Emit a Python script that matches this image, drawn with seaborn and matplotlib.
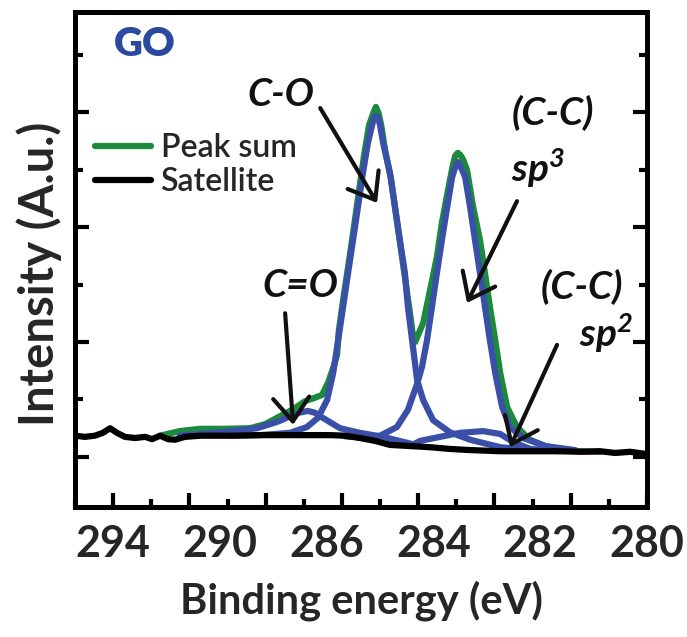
import matplotlib
matplotlib.use("Agg")
import matplotlib.pyplot as plt
from matplotlib.ticker import MultipleLocator
import seaborn as sns

# satellite / background (black)
sat_x = [295.00, 294.74, 294.48, 294.27, 294.08, 293.90, 293.69, 293.43, 293.16, 292.98,
         292.77, 292.56, 292.38, 292.12, 291.72, 290.93, 290.15, 289.10, 288.31, 287.92,
         287.53, 287.13, 286.74, 286.21, 285.69, 285.17, 284.64, 283.85, 283.07, 282.28,
         281.76, 281.23, 280.84, 280.44, 280.00]
sat_y = [0.37, 0.35, 0.37, 0.42, 0.50, 0.42, 0.35, 0.33, 0.35, 0.31,
         0.37, 0.31, 0.30, 0.35, 0.37, 0.37, 0.38, 0.38, 0.38, 0.37,
         0.33, 0.28, 0.21, 0.19, 0.17, 0.14, 0.12, 0.10, 0.10, 0.10,
         0.09, 0.10, 0.07, 0.09, 0.05]

# peak sum (green)
sum_x = [292.77, 292.25, 291.72, 291.07, 290.41, 290.02, 289.62, 289.28, 288.97, 288.71,
         288.52, 288.36, 288.23, 288.13, 288.08, 287.95, 287.81, 287.68, 287.55, 287.42,
         287.29, 287.18, 287.11, 287.04, 286.97, 286.87, 286.71, 286.58, 286.45, 286.32,
         286.21, 286.14, 286.08, 285.98, 285.87, 285.69, 285.51, 285.38, 285.22, 285.09,
         285.03, 284.96, 284.89, 284.82, 284.72, 284.56, 284.38, 284.25, 284.12, 283.98,
         283.85, 283.67, 283.41, 283.07, 282.67, 282.28, 281.76, 281.23]
sum_y = [0.37, 0.45, 0.49, 0.49, 0.50, 0.57, 0.71, 0.83, 0.97, 1.03,
         1.08, 1.30, 1.55, 1.77, 2.21, 2.82, 3.43, 4.03, 4.64, 5.25,
         5.77, 5.98, 6.09, 5.98, 5.77, 5.34, 4.82, 4.21, 3.60, 2.99,
         2.47, 2.12, 2.00, 2.16, 2.33, 2.90, 3.48, 4.07, 4.64, 5.08,
         5.24, 5.29, 5.25, 5.17, 4.99, 4.35, 3.77, 3.20, 2.61, 2.03,
         1.46, 0.87, 0.52, 0.30, 0.19, 0.14, 0.10, 0.09]

# fitted components (blue)
co_x = [290.93, 290.15, 289.36, 288.92, 288.63, 288.39, 288.23, 288.10, 287.97, 287.84,
        287.71, 287.58, 287.45, 287.32, 287.21, 287.16, 287.11, 287.05, 287.00, 286.92,
        286.74, 286.61, 286.48, 286.35, 286.27, 286.16, 286.03, 285.87, 285.61, 285.17,
        284.64, 283.85, 283.07]
co_y = [0.37, 0.38, 0.42, 0.52, 0.68, 0.99, 1.46, 2.03, 2.61, 3.20,
        3.77, 4.35, 4.94, 5.46, 5.77, 5.90, 5.93, 5.90, 5.77, 5.46,
        4.94, 4.35, 3.77, 3.20, 2.61, 2.03, 1.34, 0.99, 0.64, 0.43,
        0.30, 0.17, 0.12]

sp3_x = [287.92, 287.45, 287.00, 286.56, 286.27, 286.03, 285.90, 285.77, 285.64, 285.51,
         285.38, 285.24, 285.11, 285.03, 284.96, 284.88, 284.77, 284.64, 284.51, 284.38,
         284.25, 284.12, 283.98, 283.80, 283.59, 283.25, 282.67, 281.89]
sp3_y = [0.36, 0.34, 0.37, 0.52, 0.82, 1.27, 1.57, 2.03, 2.61, 3.20,
         3.77, 4.35, 4.87, 5.04, 5.13, 5.04, 4.87, 4.35, 3.77, 3.20,
         2.61, 2.03, 1.46, 0.87, 0.52, 0.33, 0.19, 0.12]

cdo_x = [292.25, 291.72, 290.86, 290.23, 289.70, 289.28, 289.07, 288.89, 288.71, 288.50,
         288.05, 287.53, 286.92, 285.95]
cdo_y = [0.37, 0.40, 0.45, 0.50, 0.61, 0.73, 0.78, 0.80, 0.77, 0.68,
         0.50, 0.42, 0.35, 0.19]

sp2_x = [286.21, 285.95, 285.43, 284.90, 284.30, 283.85, 283.51, 283.07, 282.28]
sp2_y = [0.19, 0.28, 0.35, 0.42, 0.45, 0.40, 0.26, 0.14, 0.10]

tick_pos = [294.0, 291.2, 288.4, 285.6, 282.8, 280.0]
tick_txt = ["294", "290", "286", "284", "282", "280"]

blue = "#3a50a8"
green = "#1b8a3c"

sns.set_style("white")
plt.rcParams["font.family"] = ["Lato", "DejaVu Sans"]
plt.rcParams["mathtext.default"] = "regular"

fig = plt.figure(figsize=(6.87, 6.37), dpi=100)
ax = fig.add_axes([0.1092, 0.2041, 0.8326, 0.7770])

sns.lineplot(x=sum_x, y=sum_y, ax=ax, color=green, lw=4.5, sort=False, label="Peak sum")
line_sum = ax.lines[-1]
for cx, cy in [(cdo_x, cdo_y), (co_x, co_y), (sp3_x, sp3_y), (sp2_x, sp2_y)]:
    sns.lineplot(x=cx, y=cy, ax=ax, color=blue, lw=4.5, sort=False)
sns.lineplot(x=sat_x, y=sat_y, ax=ax, color="black", lw=4.5, sort=False, label="Satellite")
line_sat = ax.lines[-1]

ax.set_xlim(295, 280)
ax.set_ylim(-0.87, 7.74)

# arrows
arrows = [((287.08, 4.42), (288.57, 6.07)),
          ((289.28, 0.56), (289.49, 2.50)),
          ((284.72, 2.68), (283.41, 4.45)),
          ((283.59, 0.17), (282.36, 1.95))]
for tip, tail in arrows:
    ax.annotate("", xy=tip, xytext=tail,
                arrowprops=dict(arrowstyle="->,head_length=1.7,head_width=1.3",
                                lw=3, color="#111111", shrinkA=0, shrinkB=0,
                                mutation_scale=10))

lab_kw = dict(fontsize=28, fontweight="bold", fontstyle="italic", ha="center", va="center", color="#111111")
ax.text(289.6, 6.30, "C-O", **lab_kw)
ax.text(289.1, 2.99, "C=O", **lab_kw)
ax.text(282.46, 5.98, "(C-C)", **lab_kw)
ax.text(282.86, 5.03, "sp$^3$", **lab_kw)
ax.text(281.70, 2.96, "(C-C)", **lab_kw)
ax.text(281.07, 2.16, "sp$^2$", **lab_kw)
ax.text(293.16, 7.18, "GO", fontsize=29, fontweight="heavy", color="#2c49a0", ha="center", va="center")

ax.legend(handles=[line_sum, line_sat], labels=["Peak sum", "Satellite"],
          loc="upper left", bbox_to_anchor=(0.035, 0.755), frameon=False,
          prop=dict(size=23, weight="semibold"), handlelength=1.75, handletextpad=0.3,
          labelspacing=0.12, borderpad=0, borderaxespad=0)

# tick marks
ax.xaxis.set_major_locator(MultipleLocator(2))
ax.xaxis.set_minor_locator(MultipleLocator(1))
ax.yaxis.set_major_locator(MultipleLocator(2))
ax.yaxis.set_minor_locator(MultipleLocator(1))
ax.tick_params(axis="both", which="both", direction="in", width=3, color="black",
               top=False, bottom=True, left=True, right=True,
               labelbottom=False, labelleft=False)
ax.tick_params(which="major", length=10)
ax.tick_params(which="minor", length=6)
for s in ax.spines.values():
    s.set_linewidth(3.6)
    s.set_color("black")

# tick labels sit on their own (uneven) positions
sec = ax.secondary_xaxis("bottom")
sec.set_xticks(tick_pos, tick_txt, fontweight="bold", fontsize=31)
sec.tick_params(length=0, pad=12)
sec.spines["bottom"].set_visible(False)
sec.set_xlabel("Binding energy (eV)", fontsize=30, fontweight="bold", labelpad=12)

ax.set_ylabel("Intensity (A.u.)", fontsize=34, fontweight="bold")
ax.yaxis.set_label_coords(-0.022, 0.47)

fig.savefig("out.png", dpi=100)
